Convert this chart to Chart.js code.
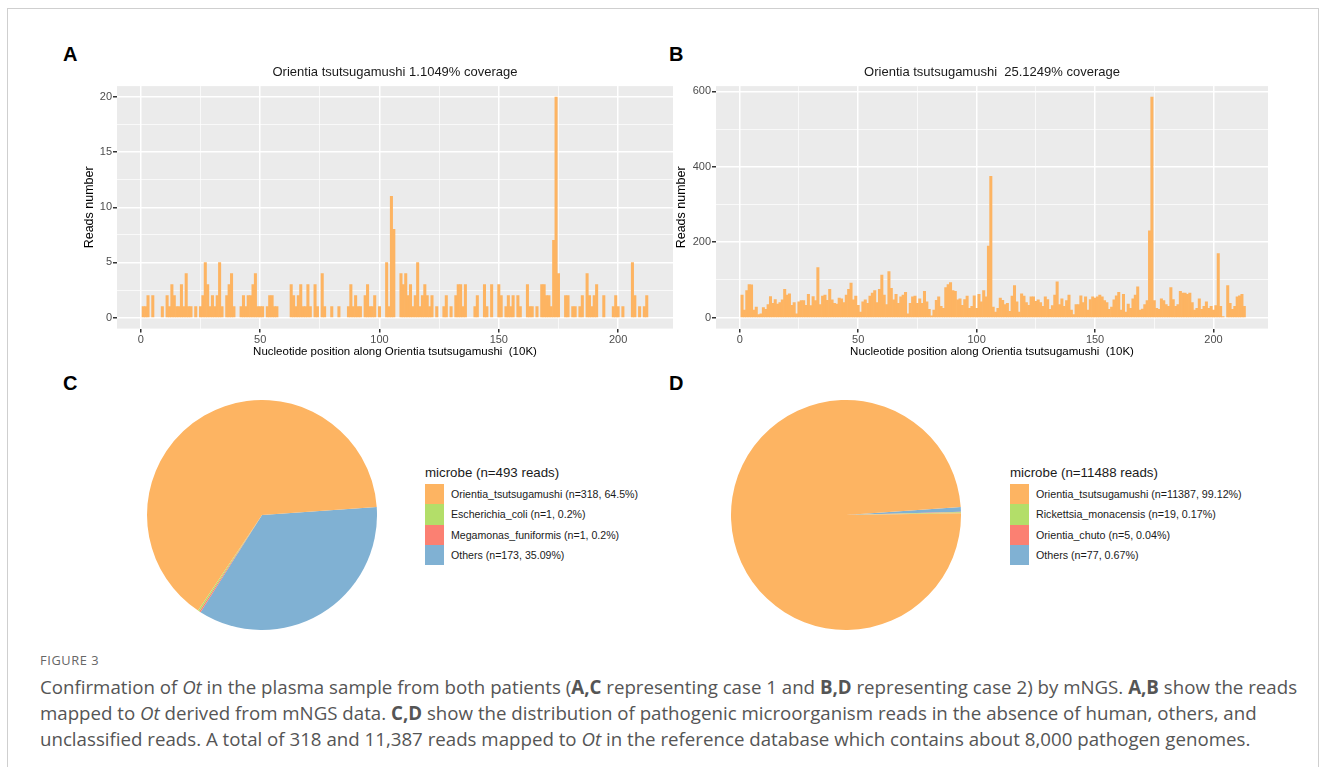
<!DOCTYPE html>
<html>
<head>
<meta charset="utf-8">
<script src="https://cdn.jsdelivr.net/npm/chart.js@4.4.0/dist/chart.umd.min.js"></script>
<style>
  body { margin: 0; width: 1328px; height: 767px; background: #fff; position: relative; overflow: hidden;
         font-family: 'Liberation Sans', Arial, sans-serif; }
  .frame { position: absolute; left: 7px; top: 8px; width: 1310px; height: 800px; border: 1px solid #cfcfcf; }
  canvas { position: absolute; }
  .tag { position: absolute; font-weight: bold; font-size: 20px; line-height: 20px; color: #000; }
  .legend { position: absolute; color: #1a1a1a; }
  .legend .ttl { font-size: 13.3px; line-height: 16px; margin-bottom: 3px; white-space: nowrap; }
  .legend .row { display: flex; align-items: center; height: 20.3px; }
  .legend .key { width: 19px; height: 20.3px; }
  .legend .lbl { white-space: nowrap; }
  .caption { position: absolute; left: 40px; top: 651px; font-family: 'Open Sans', sans-serif; color: #555; }
  .caption .fig { font-size: 12.8px; letter-spacing: 0.6px; color: #666; line-height: 18px; margin-bottom: 5px; }
  .caption .txt { font-size: 18.7px; line-height: 26px; white-space: nowrap; }
</style>
</head>
<body>
<div class="frame"></div>

<div class="tag" style="left:63px; top:44px;">A</div>
<div class="tag" style="left:669px; top:44px;">B</div>
<div class="tag" style="left:63px; top:373px;">C</div>
<div class="tag" style="left:669px; top:373px;">D</div>

<canvas id="covA" width="620" height="305" style="left:70px; top:60px;"></canvas>
<canvas id="covB" width="620" height="305" style="left:664px; top:60px;"></canvas>
<canvas id="pieC" width="230" height="230" style="left:147px; top:400px;"></canvas>
<canvas id="pieD" width="230" height="230" style="left:731px; top:400px;"></canvas>

<div class="legend" id="legC" style="left:425px; top:465px;"></div>
<div class="legend" id="legD" style="left:1010px; top:465px;"></div>

<div class="caption">
  <div class="fig">FIGURE 3</div>
  <div class="txt">Confirmation of <i>Ot</i> in the plasma sample from both patients (<b>A,C</b> representing case 1 and <b>B,D</b> representing case 2) by mNGS. <b>A,B</b> show the reads<br>mapped to <i>Ot</i> derived from mNGS data. <b>C,D</b> show the distribution of pathogenic microorganism reads in the absence of human, others, and<br>unclassified reads. A total of 318 and 11,387 reads mapped to <i>Ot</i> in the reference database which contains about 8,000 pathogen genomes.</div>
</div>

<script>
// reads per 10K bin (bin 1 first), case 1
const readsA = [
  1, 1, 2, 0, 2, 0, 0, 0, 1, 0,
  2, 1, 3, 2, 1, 1, 3, 1, 4, 1,
  1, 0, 1, 0, 1, 2, 5, 3, 1, 2,
  1, 2, 5, 1, 0, 2, 3, 4, 1, 0,
  0, 1, 2, 1, 2, 2, 3, 4, 1, 1,
  1, 0, 1, 2, 2, 1, 1, 0, 0, 0,
  0, 0, 3, 2, 1, 2, 3, 1, 1, 3,
  1, 0, 3, 1, 0, 4, 1, 0, 0, 1,
  0, 0, 1, 0, 0, 0, 1, 3, 1, 2,
  1, 1, 0, 2, 3, 1, 1, 2, 0, 1,
  0, 0, 5, 1, 11, 8, 0, 0, 4, 3,
  4, 2, 3, 1, 2, 5, 1, 2, 3, 2,
  1, 2, 0, 1, 0, 0, 1, 2, 0, 1,
  0, 2, 3, 3, 1, 3, 0, 0, 0, 1,
  2, 0, 0, 3, 1, 0, 3, 0, 0, 3,
  2, 0, 1, 2, 1, 2, 0, 2, 1, 0,
  0, 3, 1, 1, 0, 1, 0, 3, 3, 2,
  2, 1, 7, 20, 4, 0, 0, 2, 2, 0,
  1, 1, 0, 1, 2, 0, 4, 2, 1, 2,
  3, 0, 0, 2, 0, 0, 0, 1, 2, 1,
  0, 1, 0, 0, 0, 5, 2, 0, 1, 0,
  1, 2
];

// reads per 10K bin, case 2
const readsB = [
  60, 20, 72, 88, 87, 20, 28, 8, 10, 27,
  22, 35, 56, 38, 48, 36, 40, 47, 75, 60,
  63, 33, 40, 10, 42, 45, 45, 33, 62, 32,
  56, 45, 133, 35, 57, 60, 46, 75, 47, 38,
  36, 52, 50, 40, 60, 75, 92, 47, 57, 33,
  15, 42, 47, 38, 57, 65, 72, 40, 75, 113,
  60, 35, 122, 78, 47, 62, 38, 55, 60, 67,
  10, 38, 55, 57, 38, 50, 38, 70, 42, 22,
  5, 20, 46, 55, 30, 25, 80, 88, 93, 72,
  70, 47, 50, 33, 48, 57, 25, 30, 58, 25,
  62, 42, 72, 55, 190, 375, 28, 15, 25, 52,
  46, 35, 38, 17, 57, 85, 42, 15, 63, 57,
  40, 33, 55, 55, 43, 47, 40, 30, 55, 48,
  22, 32, 60, 95, 35, 50, 30, 45, 60, 20,
  8, 35, 35, 58, 40, 55, 20, 48, 55, 52,
  55, 60, 55, 45, 40, 22, 28, 47, 58, 67,
  20, 62, 15, 36, 25, 50, 60, 82, 20, 23,
  35, 45, 230, 585, 45, 25, 22, 50, 45, 35,
  30, 80, 48, 30, 35, 70, 65, 65, 62, 65,
  40, 20, 25, 50, 22, 30, 42, 25, 30, 20,
  32, 170, 30, 3, 0, 85, 38, 22, 30, 55,
  58, 62, 30
];

const xTicks = [0, 50, 100, 150, 200];
const yTicksA = [0, 5, 10, 15, 20];
const yTicksB = [0, 200, 400, 600];

const microbesC = ['Orientia_tsutsugamushi', 'Escherichia_coli', 'Megamonas_funiformis', 'Others'];
const countsC = [318, 1, 1, 173];
const pctC = ['64.5%', '0.2%', '0.2%', '35.09%'];

const microbesD = ['Orientia_tsutsugamushi', 'Rickettsia_monacensis', 'Orientia_chuto', 'Others'];
const countsD = [11387, 19, 5, 77];
const pctD = ['99.12%', '0.17%', '0.04%', '0.67%'];

const pieColors = ['#fdb462', '#b3de69', '#fb8072', '#80b1d3'];
const barColor = '#fdb462';

Chart.defaults.font.family = "'Liberation Sans', Arial, sans-serif";

// grey ggplot panel behind the grid
const panelBg = {
    id: 'panelBg',
    beforeDraw(chart) {
        const a = chart.chartArea;
        const ctx = chart.ctx;
        ctx.save();
        ctx.fillStyle = '#ebebeb';
        ctx.fillRect(a.left, a.top, a.right - a.left, a.bottom - a.top);
        ctx.restore();
    }
};

// majors plus the halfway minor lines, kept inside the range
function withMinors(majors, min, max) {
    const step = majors[1] - majors[0];
    const all = [majors[0] - step / 2];
    majors.forEach(v => { all.push(v); all.push(v + step / 2); });
    return all.filter(v => v >= min && v <= max);
}

function axisGrid(majors) {
    return {
        color: '#ffffff',
        lineWidth: ctx => (ctx.tick && majors.includes(ctx.tick.value)) ? 1.5 : 0.7,
        tickColor: ctx => (ctx.tick && majors.includes(ctx.tick.value)) ? '#333333' : 'rgba(0,0,0,0)',
        tickLength: 4,
        offset: false
    };
}

function coverageChart(id, title, reads, yMin, yMax, yTicks, yWidth, yTitlePad, rightPad) {
    const points = [];
    reads.forEach((v, i) => {
        if (v > 0) points.push({ x: i + 1, y: v });
    });
    const xMin = -10, xMax = 223;

    return new Chart(document.getElementById(id), {
        type: 'bar',
        data: {
            datasets: [{
                data: points,
                backgroundColor: barColor,
                borderWidth: 0,
                barPercentage: 1,
                categoryPercentage: 1
            }]
        },
        options: {
            responsive: false,
            animation: false,
            layout: { padding: { left: 0, right: rightPad, top: 0, bottom: 0 } },
            plugins: {
                legend: { display: false },
                tooltip: { enabled: false },
                title: {
                    display: true,
                    text: title,
                    fullSize: false,
                    color: '#1a1a1a',
                    font: { size: 13, weight: 'normal' },
                    padding: { top: 5, bottom: 5.5 }
                }
            },
            scales: {
                x: {
                    type: 'linear',
                    min: xMin,
                    max: xMax,
                    offset: false,
                    afterBuildTicks: s => { s.ticks = withMinors(xTicks, xMin, xMax).map(v => ({ value: v })); },
                    afterFit: s => { s.height = 36.4; },
                    ticks: {
                        autoSkip: false,
                        maxRotation: 0,
                        padding: 1,
                        color: '#4d4d4d',
                        font: { size: 11 },
                        callback: v => xTicks.includes(v) ? String(v) : ''
                    },
                    grid: axisGrid(xTicks),
                    border: { display: false },
                    title: {
                        display: true,
                        text: 'Nucleotide position along Orientia tsutsugamushi  (10K)',
                        color: '#000',
                        font: { size: 11.5 },
                        padding: { top: 0, bottom: 6 }
                    }
                },
                y: {
                    min: yMin,
                    max: yMax,
                    afterBuildTicks: s => { s.ticks = withMinors(yTicks, yMin, yMax).map(v => ({ value: v })); },
                    afterFit: s => { s.width = yWidth; },
                    ticks: {
                        padding: 1,
                        color: '#4d4d4d',
                        font: { size: 11 },
                        callback: v => yTicks.includes(v) ? String(v) : ''
                    },
                    grid: axisGrid(yTicks),
                    border: { display: false },
                    title: {
                        display: true,
                        text: 'Reads number',
                        color: '#000',
                        font: { size: 12.5 },
                        padding: { top: yTitlePad, bottom: 0 }
                    }
                }
            }
        },
        plugins: [panelBg]
    });
}

function pieChart(id, names, counts) {
    // drawn clockwise from just above 3 o'clock, last category first (as ggplot stacks it)
    return new Chart(document.getElementById(id), {
        type: 'pie',
        data: {
            labels: names.slice().reverse(),
            datasets: [{
                data: counts.slice().reverse(),
                backgroundColor: pieColors.slice().reverse(),
                borderWidth: 0
            }]
        },
        options: {
            responsive: false,
            animation: false,
            rotation: 86,
            layout: { padding: 0 },
            plugins: { legend: { display: false }, tooltip: { enabled: false } }
        }
    });
}

function buildLegend(id, names, counts, pcts, textSize) {
    const total = counts.reduce((a, b) => a + b, 0);
    const box = document.getElementById(id);
    let html = '<div class="ttl">microbe (n=' + total + ' reads)</div>';
    names.forEach((n, i) => {
        html += '<div class="row"><div class="key" style="background:' + pieColors[i] + '"></div>' +
                '<div class="lbl" style="margin-left:7px; font-size:' + textSize + 'px">' +
                n + ' (n=' + counts[i] + ', ' + pcts[i] + ')</div></div>';
    });
    box.innerHTML = html;
}

coverageChart('covA', 'Orientia tsutsugamushi 1.1049% coverage', readsA, -1, 21, yTicksA, 47, 12.5, 17);
coverageChart('covB', 'Orientia tsutsugamushi  25.1249% coverage', readsB, -29, 614, yTicksB, 52, 10.5, 16);
pieChart('pieC', microbesC, countsC);
pieChart('pieD', microbesD, countsD);
buildLegend('legC', microbesC, countsC, pctC, 10.6);
buildLegend('legD', microbesD, countsD, pctD, 10.7);
</script>
</body>
</html>
